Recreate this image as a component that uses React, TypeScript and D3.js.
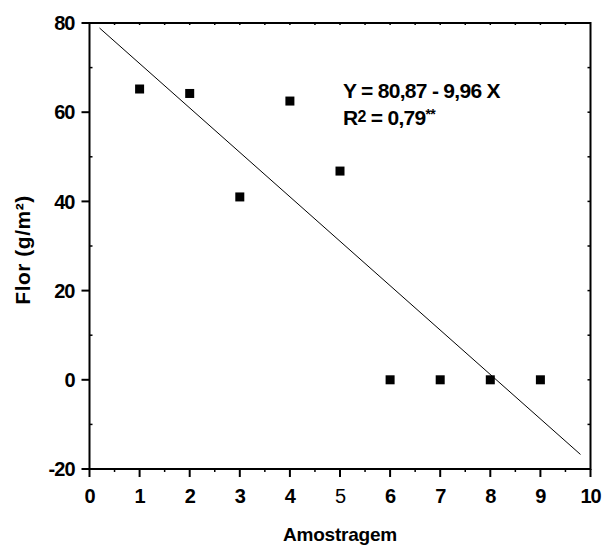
import React, { useEffect, useRef } from 'react';
import * as d3 from 'd3';

const amostras = [1, 2, 3, 4, 5, 6, 7, 8, 9];
const flor = [65.2, 64.2, 41, 62.5, 46.8, 0, 0, 0, 0];
const xTicks = [0, 1, 2, 3, 4, 5, 6, 7, 8, 9, 10];
const yTicks = [-20, 0, 20, 40, 60, 80];
const intercept = 80.87;
const slope = -9.96;
const fitRange = [0.2, 9.8];

const W = 604;
const H = 546;

const App = () => {
  const ref = useRef<SVGSVGElement>(null);

  useEffect(() => {
    const svg = d3.select(ref.current);
    svg.selectAll('*').remove();

    const x = d3.scaleLinear().domain([0, 10]).range([89.5, 590.5]);
    const y = d3.scaleLinear().domain([-20, 80]).range([469, 23]);
    const font = 'Liberation Sans, Arial, sans-serif';

    // frame
    svg.append('rect')
      .attr('x', x(0)).attr('y', y(80))
      .attr('width', x(10) - x(0)).attr('height', y(-20) - y(80))
      .attr('fill', 'none').attr('stroke', '#000').attr('stroke-width', 2);

    // bottom axis
    const bottom = svg.append('g').attr('transform', `translate(0,${y(-20)})`);
    bottom.selectAll('line.maj').data(xTicks).enter().append('line')
      .attr('x1', d => x(d)).attr('x2', d => x(d)).attr('y1', 0).attr('y2', 8)
      .attr('stroke', '#000').attr('stroke-width', 2);
    bottom.selectAll('line.min').data(d3.range(0.5, 10, 1)).enter().append('line')
      .attr('x1', d => x(d)).attr('x2', d => x(d)).attr('y1', 0).attr('y2', 3)
      .attr('stroke', '#000').attr('stroke-width', 1.5);
    bottom.selectAll('text').data(xTicks).enter().append('text')
      .attr('x', d => x(d)).attr('y', 34)
      .attr('text-anchor', 'middle')
      .style('font-family', font).style('font-size', '20px')
      .style('font-weight', d => (d === 5 ? 'normal' : 'bold'))
      .style('letter-spacing', '-1px')
      .text(d => d);

    // top minor ticks
    svg.selectAll('line.top').data(d3.range(0.5, 10, 0.5)).enter().append('line')
      .attr('x1', d => x(d)).attr('x2', d => x(d)).attr('y1', y(80) - 1).attr('y2', y(80) + 2)
      .attr('stroke', '#000').attr('stroke-width', 1.5);

    // left axis
    const left = svg.append('g').attr('transform', `translate(${x(0)},0)`);
    left.selectAll('line.maj').data(yTicks).enter().append('line')
      .attr('x1', -8).attr('x2', 0).attr('y1', d => y(d)).attr('y2', d => y(d))
      .attr('stroke', '#000').attr('stroke-width', 2);
    left.selectAll('line.min').data(d3.range(-10, 80, 20)).enter().append('line')
      .attr('x1', 0).attr('x2', 3).attr('y1', d => y(d)).attr('y2', d => y(d))
      .attr('stroke', '#000').attr('stroke-width', 1.5);
    left.selectAll('text').data(yTicks).enter().append('text')
      .attr('x', -15).attr('y', d => y(d)).attr('dy', '0.36em')
      .attr('text-anchor', 'end')
      .style('font-family', font).style('font-size', '20px').style('font-weight', 'bold')
      .style('letter-spacing', '-1px')
      .text(d => d);

    // right minor ticks
    svg.selectAll('line.right').data(d3.range(-10, 80, 10)).enter().append('line')
      .attr('x1', x(10) - 3).attr('x2', x(10)).attr('y1', d => y(d)).attr('y2', d => y(d))
      .attr('stroke', '#000').attr('stroke-width', 1.5);

    // regression line
    svg.append('line')
      .attr('x1', x(fitRange[0])).attr('y1', y(intercept + slope * fitRange[0]))
      .attr('x2', x(fitRange[1])).attr('y2', y(intercept + slope * fitRange[1]))
      .attr('stroke', '#000').attr('stroke-width', 1);

    // points
    const s = 9;
    svg.selectAll('rect.pt').data(amostras).enter().append('rect')
      .attr('x', d => x(d) - s / 2).attr('y', (d, i) => y(flor[i]) - s / 2)
      .attr('width', s).attr('height', s).attr('fill', '#000');

    // equation
    svg.append('text').attr('x', 343).attr('y', 98)
      .style('font-family', font).style('font-size', '21px').style('font-weight', 'bold')
      .style('letter-spacing', '-0.7px')
      .text('Y = 80,87 - 9,96 X');
    const r2 = svg.append('text').attr('x', 343).attr('y', 125)
      .style('font-family', font).style('font-size', '21px').style('font-weight', 'bold')
      .style('letter-spacing', '-0.7px');
    r2.append('tspan').text('R');
    r2.append('tspan').attr('font-size', '16px').attr('dy', -3).text('2');
    r2.append('tspan').attr('dy', 3).text(' = 0,79');
    r2.append('tspan').attr('font-size', '14px').attr('dy', -6).text('**');

    // axis titles
    svg.append('text')
      .attr('x', 340).attr('y', 541).attr('text-anchor', 'middle')
      .style('font-family', font).style('font-size', '19px').style('font-weight', 'bold')
      .style('letter-spacing', '-0.2px')
      .text('Amostragem');
    svg.append('text')
      .attr('transform', `translate(30,250) rotate(-90)`)
      .attr('text-anchor', 'middle')
      .style('font-family', font).style('font-size', '21px').style('font-weight', 'bold')
      .style('letter-spacing', '0.5px')
      .text('Flor (g/m²)');
  }, []);

  return (
    <svg ref={ref} width={W} height={H}
      style={{ position: 'absolute', left: 0, top: 0, background: '#fff' }} />
  );
};

export default App;
